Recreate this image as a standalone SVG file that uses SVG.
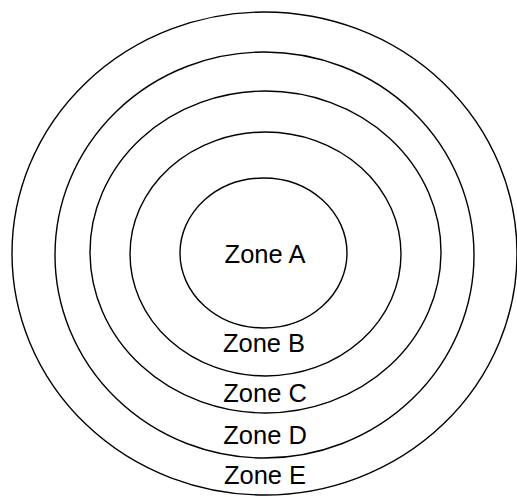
<svg xmlns="http://www.w3.org/2000/svg" width="517" height="497" viewBox="0 0 517 497">
<style>
.ring{fill:none;stroke:#000;stroke-width:1.4}
.lbl{font-family:"Liberation Sans",Arial,sans-serif;font-size:25.5px;fill:#000;text-anchor:middle}
</style>
<rect width="517" height="497" fill="#fff"/>
<g id="zoneE"><ellipse class="ring" cx="264.5" cy="253.5" rx="252.5" ry="241.5"/><text class="lbl" x="265" y="484">Zone E</text></g>
<g id="zoneD"><ellipse class="ring" cx="264.5" cy="255" rx="209.5" ry="203"/><text class="lbl" x="265" y="443.5">Zone D</text></g>
<g id="zoneC"><ellipse class="ring" cx="265.5" cy="252" rx="175.5" ry="161"/><text class="lbl" x="265" y="402">Zone C</text></g>
<g id="zoneB"><ellipse class="ring" cx="265.5" cy="254" rx="135.5" ry="122"/><text class="lbl" x="264" y="352">Zone B</text></g>
<g id="zoneA"><ellipse class="ring" cx="263.5" cy="253" rx="83.5" ry="75"/><text class="lbl" x="265" y="262.5">Zone A</text></g>
<g id="connectors"/>
</svg>
